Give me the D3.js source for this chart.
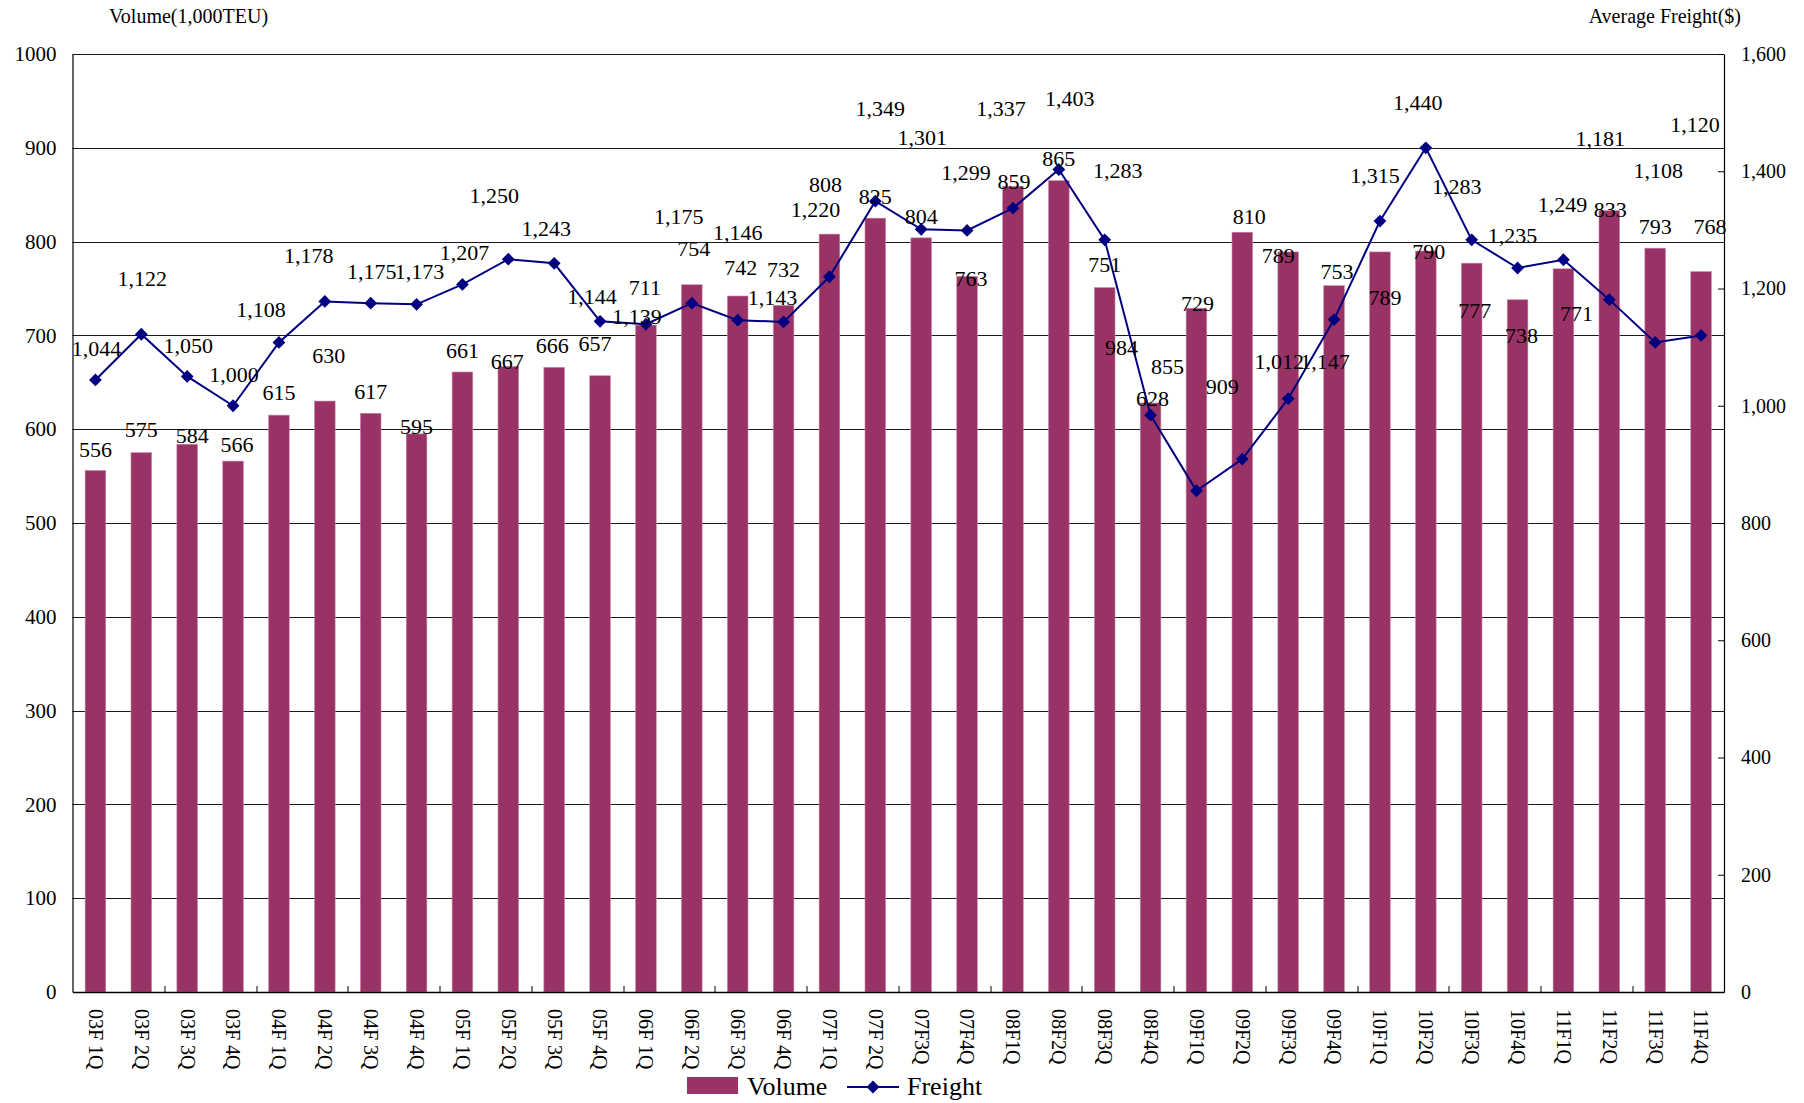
<!DOCTYPE html>
<html>
<head>
<meta charset="utf-8">
<script src="https://cdn.jsdelivr.net/npm/d3@7"></script>
<style>
  body { margin: 0; background: #fff; }
  text { font-family: "Liberation Serif", "Times New Roman", serif; fill: #000; }
</style>
</head>
<body>
<div id="chart"></div>
<script>
'use strict';

// Quarters
var quarters = [
  '03F 1Q', '03F 2Q', '03F 3Q', '03F 4Q',
  '04F 1Q', '04F 2Q', '04F 3Q', '04F 4Q',
  '05F 1Q', '05F 2Q', '05F 3Q', '05F 4Q',
  '06F 1Q', '06F 2Q', '06F 3Q', '06F 4Q',
  '07F 1Q', '07F 2Q', '07F3Q', '07F4Q',
  '08F1Q', '08F2Q', '08F3Q', '08F4Q',
  '09F1Q', '09F2Q', '09F3Q', '09F4Q',
  '10F1Q', '10F2Q', '10F3Q', '10F4Q',
  '11F1Q', '11F2Q', '11F3Q', '11F4Q'
];

// Volume (1,000 TEU), left axis
var volume = [
  556, 575, 584, 566, 615, 630, 617, 595, 661, 667, 666, 657,
  711, 754, 742, 732, 808, 825, 804, 763, 859, 865, 751, 628,
  729, 810, 789, 753, 789, 790, 777, 738, 771, 833, 793, 768
];

// Average freight ($), right axis
var freight = [
  1044, 1122, 1050, 1000, 1108, 1178, 1175, 1173, 1207, 1250, 1243, 1144,
  1139, 1175, 1146, 1143, 1220, 1349, 1301, 1299, 1337, 1403, 1283, 984,
  855, 909, 1012, 1147, 1315, 1440, 1283, 1235, 1249, 1181, 1108, 1120
];

var volumeTicks = [0, 100, 200, 300, 400, 500, 600, 700, 800, 900, 1000];
var freightTicks = [0, 200, 400, 600, 800, 1000, 1200, 1400, 1600];

// data label nudges [dx, dy] in px, the labels in the original were dragged around by hand
var volumeLabelShift = [
  [0, -21], [0, -23], [5, -9], [4, -17], [0, -23], [4, -46], [0, -22], [0, -8],
  [0, -22], [-1, -5], [-2, -22], [-5, -32], [-1, -38], [2, -36], [3, -29], [0, -36],
  [-4, -50], [0, -22], [0, -22], [4, 2], [1, -5], [0, -22], [0, -23], [2, -5],
  [1, -5], [7, -16], [-10, 3], [3, -14], [5, 45], [3, 0], [3, 47], [4, 36],
  [13, 44], [1, -1], [0, -22], [9, -45]
];
var freightLabelShift = [
  [1, -32], [1, -56], [1, -31], [1, -31], [-18, -33], [-16, -46], [1, -32], [3, -33],
  [2, -32], [-14, -64], [-8, -35], [-8, -25], [-9, -8], [-13, -87], [0, -88], [-11, -25],
  [-14, -67], [5, -93], [1, -92], [-1, -58], [-12, -100], [11, -71], [13, -70], [-29, -68],
  [-29, -124], [-20, -73], [-9, -37], [-9, 42], [-5, -46], [-8, -46], [-15, -54], [-5, -33],
  [-1, -55], [-9, -161], [3, -172], [-6, -211]
];

var BAR_COLOR = '#993366';
var LINE_COLOR = '#000080';

var width = 1804, height = 1103;
var margin = { top: 54, right: 80, bottom: 111, left: 72.5 };
var innerW = width - margin.left - margin.right;
var innerH = height - margin.top - margin.bottom;

var svg = d3.select('#chart').append('svg')
  .attr('width', width)
  .attr('height', height);

svg.append('rect')
  .attr('width', width)
  .attr('height', height)
  .attr('fill', '#fff');

var g = svg.append('g')
  .attr('transform', 'translate(' + margin.left + ',' + margin.top + ')');

var x = d3.scaleBand()
  .domain(quarters)
  .range([0, innerW])
  .paddingInner(0.55)
  .paddingOuter(0.275);

var yLeft = d3.scaleLinear().domain([0, 1000]).range([innerH, 0]);
var yRight = d3.scaleLinear().domain([0, 1600]).range([innerH, 0]);

function centerX(d) { return x(d) + x.bandwidth() / 2; }

// gridlines
g.append('g')
  .selectAll('line')
  .data(volumeTicks.slice(1))
  .enter()
  .append('line')
  .attr('x1', 0)
  .attr('x2', innerW)
  .attr('y1', function(d) { return Math.round(yLeft(d)) + 0.5; })
  .attr('y2', function(d) { return Math.round(yLeft(d)) + 0.5; })
  .style('stroke', '#1a1a1a')
  .style('stroke-width', 1);

// Bars
g.append('g')
  .selectAll('rect')
  .data(volume)
  .enter()
  .append('rect')
  .attr('x', function(d, i) { return x(quarters[i]); })
  .attr('y', function(d) { return yLeft(d); })
  .attr('width', x.bandwidth())
  .attr('height', function(d) { return innerH - yLeft(d); })
  .style('fill', BAR_COLOR)
  .style('stroke', '#c88aa8')
  .style('stroke-width', 0.6);

// Axes
var leftAxis = g.append('g')
  .call(d3.axisLeft(yLeft).tickValues(volumeTicks).tickFormat(d3.format('d'))
    .tickSize(0).tickPadding(16));
leftAxis.select('.domain').style('stroke', '#000').style('stroke-width', 1.2);
leftAxis.selectAll('text').style('font-size', '21px')
  .style('font-family', '"Liberation Serif", "Times New Roman", serif');

var rightAxis = g.append('g')
  .attr('transform', 'translate(' + innerW + ',0)')
  .call(d3.axisRight(yRight).tickValues(freightTicks).tickFormat(d3.format(','))
    .tickSizeInner(-6).tickSizeOuter(0).tickPadding(17));
rightAxis.select('.domain').style('stroke', '#000').style('stroke-width', 1.2);
rightAxis.selectAll('line').style('stroke', '#000');
rightAxis.selectAll('text').style('font-size', '20px')
  .style('font-family', '"Liberation Serif", "Times New Roman", serif');

var bottomAxis = g.append('g')
  .attr('transform', 'translate(0,' + innerH + ')')
  .call(d3.axisBottom(x).tickSize(0).tickPadding(0));
bottomAxis.select('.domain').style('stroke', '#000').style('stroke-width', 1.5);
bottomAxis.selectAll('text')
  .attr('transform', 'translate(0,17) rotate(90)')
  .attr('y', 0)
  .attr('dy', '0.33em')
  .style('text-anchor', 'start')
  .style('font-size', '20px')
  .style('font-family', '"Liberation Serif", "Times New Roman", serif');

// tick marks every second quarter, pointing up into the plot
g.append('g')
  .selectAll('line')
  .data(d3.range(2, quarters.length, 2))
  .enter()
  .append('line')
  .attr('x1', function(k) { return Math.round(k * x.step()) + 0.5; })
  .attr('x2', function(k) { return Math.round(k * x.step()) + 0.5; })
  .attr('y1', innerH)
  .attr('y2', innerH - 6)
  .style('stroke', '#000');

// Freight line
var line = d3.line()
  .x(function(d, i) { return centerX(quarters[i]); })
  .y(function(d) { return yRight(d); });

g.append('path')
  .datum(freight)
  .attr('d', line)
  .style('fill', 'none')
  .style('stroke', LINE_COLOR)
  .style('stroke-width', 2);

var diamond = d3.symbol().type(d3.symbolSquare).size(82);

g.append('g')
  .selectAll('path')
  .data(freight)
  .enter()
  .append('path')
  .attr('d', diamond)
  .attr('transform', function(d, i) {
    return 'translate(' + centerX(quarters[i]) + ',' + yRight(d) + ') rotate(45)';
  })
  .style('fill', LINE_COLOR);

// Data labels
var fmt = d3.format(',');

g.append('g')
  .selectAll('text')
  .data(volume)
  .enter()
  .append('text')
  .attr('x', function(d, i) { return centerX(quarters[i]) + volumeLabelShift[i][0]; })
  .attr('y', function(d, i) { return yLeft(d) + volumeLabelShift[i][1]; })
  .attr('dy', '0.35em')
  .attr('text-anchor', 'middle')
  .style('font-size', '22px')
  .text(function(d) { return fmt(d); });

g.append('g')
  .selectAll('text')
  .data(freight)
  .enter()
  .append('text')
  .attr('x', function(d, i) { return centerX(quarters[i]) + freightLabelShift[i][0]; })
  .attr('y', function(d, i) { return yRight(d) + freightLabelShift[i][1]; })
  .attr('dy', '0.35em')
  .attr('text-anchor', 'middle')
  .style('font-size', '22px')
  .text(function(d) { return fmt(d); });

// Axis titles
svg.append('text')
  .attr('x', 109)
  .attr('y', 23)
  .style('font-size', '20px')
  .text('Volume(1,000TEU)');

svg.append('text')
  .attr('x', 1741)
  .attr('y', 23)
  .attr('text-anchor', 'end')
  .style('font-size', '20px')
  .text('Average Freight($)');

// Legend
var legend = svg.append('g').attr('transform', 'translate(687,1077)');
legend.append('rect')
  .attr('width', 51)
  .attr('height', 17)
  .style('fill', BAR_COLOR);
legend.append('text')
  .attr('x', 60)
  .attr('y', 18)
  .style('font-size', '26px')
  .text('Volume');
legend.append('line')
  .attr('x1', 160)
  .attr('x2', 212)
  .attr('y1', 10)
  .attr('y2', 10)
  .style('stroke', LINE_COLOR)
  .style('stroke-width', 2);
legend.append('path')
  .attr('d', diamond)
  .attr('transform', 'translate(186,10) rotate(45)')
  .style('fill', LINE_COLOR);
legend.append('text')
  .attr('x', 220)
  .attr('y', 18)
  .style('font-size', '26px')
  .text('Freight');
</script>
</body>
</html>
